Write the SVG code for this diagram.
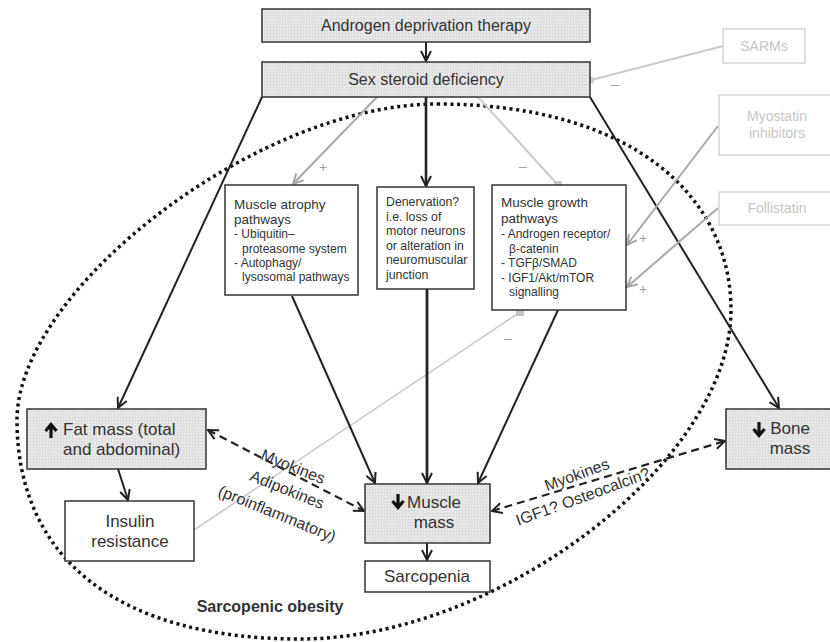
<svg xmlns="http://www.w3.org/2000/svg" width="830" height="642" viewBox="0 0 830 642">
<defs>
<pattern id="stip" width="3" height="3" patternUnits="userSpaceOnUse">
<rect width="3" height="3" fill="#e6e6e6"/>
<rect width="1" height="1" fill="#cdcdcd"/>
</pattern>
<marker id="ab" viewBox="0 0 12 12" refX="11" refY="6" markerWidth="12" markerHeight="12" markerUnits="userSpaceOnUse" orient="auto-start-reverse">
<path d="M1,1 L11,6 L1,11" fill="none" stroke="#222" stroke-width="2"/>
</marker>
<marker id="ag" viewBox="0 0 12 12" refX="11" refY="6" markerWidth="12" markerHeight="12" markerUnits="userSpaceOnUse" orient="auto">
<path d="M1,1 L11,6 L1,11" fill="none" stroke="#a8a8a8" stroke-width="2"/>
</marker>
<marker id="sq" viewBox="0 0 8 8" refX="4" refY="4" markerWidth="8" markerHeight="8" markerUnits="userSpaceOnUse" orient="0">
<rect width="8" height="8" fill="#c6c6c6"/>
</marker>
<marker id="dot" viewBox="0 0 8 8" refX="4" refY="4" markerWidth="8" markerHeight="8" markerUnits="userSpaceOnUse">
<circle cx="4" cy="4" r="3.5" fill="#cfcfcf"/>
</marker>
</defs>
<style>
.box{fill:#fff;stroke:#333;stroke-width:1.5}
.gbox{fill:url(#stip);stroke:#333;stroke-width:1.5}
.lbox{fill:#fff;stroke:#d6d6d6;stroke-width:1.5}
text{font-family:"Liberation Sans",Arial,Helvetica,sans-serif;fill:#333}
.big{font-size:16px;text-anchor:middle}
.node{font-size:17px}
.mid{text-anchor:middle}
.ttl{font-size:13.5px}
.itm{font-size:12px}
.den{font-size:12.3px}
.light{font-size:14px;fill:#c6c6c6;text-anchor:middle}
.sign{font-size:14px;fill:#a0a0a0;text-anchor:middle}
.lbl{font-size:16px;text-anchor:middle}
.blk{fill:none;stroke:#222;stroke-width:2}
.gry{fill:none;stroke:#a8a8a8;stroke-width:2}
.lgt{fill:none;stroke:#cbcbcb;stroke-width:2}
.dsh{fill:none;stroke:#222;stroke-width:2.2;stroke-dasharray:8 5}
.icon{fill:none;stroke:#111;stroke-width:3.2;stroke-linecap:butt}
</style>

<!-- dotted sarcopenic obesity region -->
<g id="region">
<path d="M437,104 C637,104 731,200 731,310 C731,460 500,639 300,639 C120,639 17,560 17,420 C17,290 257,104 437,104 Z" fill="none" stroke="#111" stroke-width="3.5" stroke-dasharray="3 3.6"/>
<text x="270" y="612" class="mid" style="font-size:16px;font-weight:bold">Sarcopenic obesity</text>
</g>

<g id="connectors">
<line x1="426" y1="42" x2="426" y2="61" class="blk" marker-end="url(#ab)"/>
<line x1="262" y1="97" x2="118" y2="408" class="blk" marker-end="url(#ab)"/>
<line x1="590" y1="97" x2="779" y2="408" class="blk" marker-end="url(#ab)"/>
<line x1="426" y1="97" x2="426" y2="186" class="blk" style="stroke-width:2.6" marker-end="url(#ab)"/>
<line x1="377" y1="97" x2="293" y2="184" class="gry" marker-end="url(#ag)"/>
<line x1="478" y1="97" x2="558" y2="185" class="lgt" marker-end="url(#sq)"/>
<line x1="723" y1="46" x2="591" y2="80" class="lgt" marker-end="url(#dot)"/>
<line x1="718" y1="126" x2="627" y2="245" class="gry" marker-end="url(#ag)"/>
<line x1="718" y1="208" x2="627" y2="287" class="gry" marker-end="url(#ag)"/>
<line x1="194" y1="530" x2="520" y2="312" class="lgt" style="stroke-width:1.6" marker-end="url(#sq)"/>
<line x1="292" y1="296" x2="375" y2="483" class="blk" marker-end="url(#ab)"/>
<line x1="427" y1="289" x2="427" y2="483" class="blk" style="stroke-width:2.8" marker-end="url(#ab)"/>
<line x1="558" y1="310" x2="478" y2="483" class="blk" marker-end="url(#ab)"/>
<line x1="118" y1="469" x2="128" y2="500" class="blk" marker-end="url(#ab)"/>
<line x1="427" y1="543" x2="427" y2="560" class="blk" marker-end="url(#ab)"/>
<line x1="208" y1="430" x2="364" y2="511" class="dsh" marker-start="url(#ab)" marker-end="url(#ab)"/>
<line x1="492" y1="511" x2="725" y2="441" class="dsh" marker-start="url(#ab)" marker-end="url(#ab)"/>
<text x="323" y="172" class="sign">+</text>
<text x="523" y="171" class="sign">–</text>
<text x="615" y="89" class="sign">–</text>
<text x="643" y="243" class="sign">+</text>
<text x="643" y="294" class="sign">+</text>
<text x="508" y="343" class="sign">–</text>
<g transform="translate(293,467) rotate(22)"><text x="0" y="5" class="lbl">Myokines</text></g>
<g transform="translate(287,490) rotate(22)"><text x="0" y="5" class="lbl">Adipokines</text></g>
<g transform="translate(277,514) rotate(22)"><text x="0" y="5" class="lbl">(proinflammatory)</text></g>
<g transform="translate(577,475) rotate(-20)"><text x="0" y="5" class="lbl">Myokines</text></g>
<g transform="translate(583,497) rotate(-20)"><text x="0" y="5" class="lbl">IGF1? Osteocalcin?</text></g>
</g>

<g id="adt">
<rect x="262" y="9" width="328" height="33" class="gbox"/>
<text x="426" y="31" class="big">Androgen deprivation therapy</text>
</g>
<g id="sex">
<rect x="262" y="62" width="328" height="35" class="gbox"/>
<text x="426" y="85" class="big">Sex steroid deficiency</text>
</g>

<g id="sarms">
<rect x="723" y="29" width="82" height="34" class="lbox"/>
<text x="764" y="51" class="light">SARMs</text>
</g>
<g id="myostatin">
<rect x="719" y="95" width="125" height="60" class="lbox"/>
<text x="777" y="121" class="light">Myostatin</text>
<text x="777" y="138" class="light">inhibitors</text>
</g>
<g id="follistatin">
<rect x="719" y="192" width="125" height="33" class="lbox"/>
<text x="777" y="213" class="light">Follistatin</text>
</g>

<g id="atrophy">
<rect x="225" y="185" width="133" height="110" class="box"/>
<text x="234" y="209" class="ttl">Muscle atrophy</text>
<text x="234" y="224" class="ttl">pathways</text>
<text x="234" y="238" class="itm">- Ubiquitin–</text>
<text x="242" y="253" class="itm">proteasome system</text>
<text x="234" y="267" class="itm">- Autophagy/</text>
<text x="242" y="281" class="itm">lysosomal pathways</text>
</g>

<g id="denervation">
<rect x="377" y="187" width="97" height="102" class="box"/>
<text x="386" y="206" class="den">Denervation?</text>
<text x="386" y="220.5" class="den">i.e. loss of</text>
<text x="386" y="235" class="den">motor neurons</text>
<text x="386" y="249.5" class="den">or alteration in</text>
<text x="386" y="264" class="den">neuromuscular</text>
<text x="386" y="278.5" class="den">junction</text>
</g>

<g id="growth">
<rect x="492" y="185" width="134" height="125" class="box"/>
<text x="501" y="207" class="ttl">Muscle growth</text>
<text x="501" y="223" class="ttl">pathways</text>
<text x="501" y="238" class="itm">- Androgen receptor/</text>
<text x="509" y="253" class="itm">β-catenin</text>
<text x="501" y="267" class="itm">- TGFβ/SMAD</text>
<text x="501" y="282" class="itm">- IGF1/Akt/mTOR</text>
<text x="509" y="296" class="itm">signalling</text>
</g>

<g id="fat">
<rect x="27" y="409" width="179" height="60" class="gbox"/>
<path d="M51,438 V426 M45.5,431 L51,424.5 L56.5,431" class="icon"/>
<text x="63" y="435" class="node">Fat mass (total</text>
<text x="63" y="455" class="node">and abdominal)</text>
</g>

<g id="insulin">
<rect x="65" y="501" width="129" height="60" class="box"/>
<text x="130" y="527" class="node mid">Insulin</text>
<text x="130" y="547" class="node mid">resistance</text>
</g>

<g id="muscle">
<rect x="365" y="484" width="125" height="59" class="gbox"/>
<path d="M398,494 V506 M392.5,501 L398,507.5 L403.5,501" class="icon"/>
<text x="434" y="508" class="node mid">Muscle</text>
<text x="434" y="528" class="node mid">mass</text>
</g>

<g id="sarcopenia">
<rect x="365" y="561" width="125" height="31" class="box"/>
<text x="427" y="582" class="node mid">Sarcopenia</text>
</g>

<g id="bone">
<rect x="726" y="409" width="110" height="60" class="gbox"/>
<path d="M759,422 V434 M753.5,429 L759,435.5 L764.5,429" class="icon"/>
<text x="790" y="434" class="node mid">Bone</text>
<text x="790" y="454" class="node mid">mass</text>
</g>
</svg>
